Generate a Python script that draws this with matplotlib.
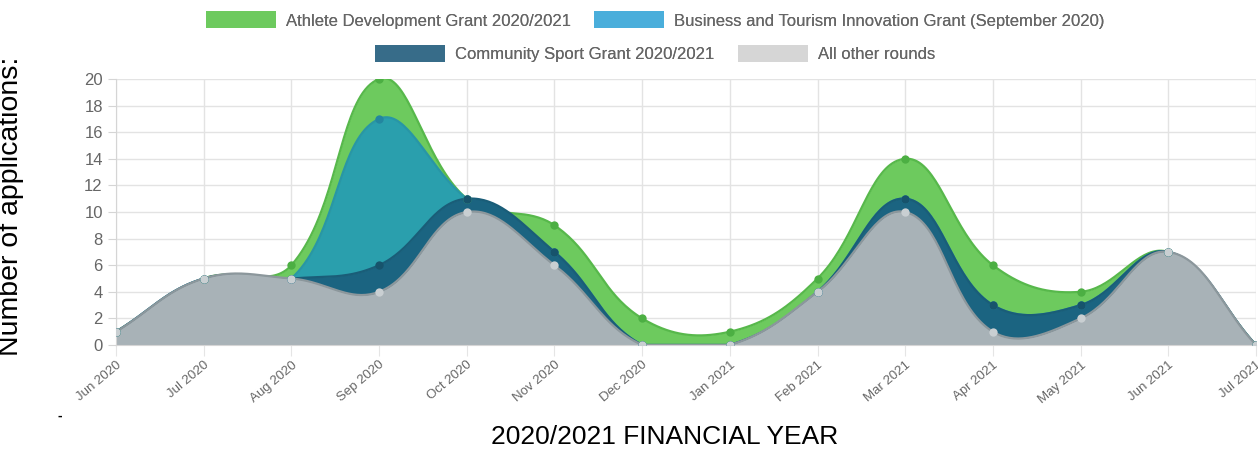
import numpy as np
import matplotlib
matplotlib.use('Agg')
import matplotlib.pyplot as plt
from matplotlib.patches import Patch

# 数据
months = ['Jun 2020', 'Jul 2020', 'Aug 2020', 'Sep 2020', 'Oct 2020', 'Nov 2020', 'Dec 2020',
          'Jan 2021', 'Feb 2021', 'Mar 2021', 'Apr 2021', 'May 2021', 'Jun 2021', 'Jul 2021']
other_rounds = [1, 5, 5, 4, 10, 6, 0, 0, 4, 10, 1, 2, 7, 0]
community = [0, 0, 0, 2, 1, 1, 0, 0, 0, 1, 2, 1, 0, 0]
business = [0, 0, 0, 11, 0, 0, 0, 0, 0, 0, 0, 0, 0, 0]
athlete = [0, 0, 1, 3, 0, 2, 2, 1, 1, 3, 3, 1, 0, 0]

fills = ['#a8b2b7', '#1b6481', '#2a9fad', '#6dca5e']
lines = ['#8c979c', '#1a5d78', '#2896a6', '#57b84b']
points = ['#c9cfd2', '#17536c', '#2386a0', '#4caf43']
legend_colors = {'Athlete Development Grant 2020/2021': '#6dca5e',
                 'Business and Tourism Innovation Grant (September 2020)': '#4aaedb',
                 'Community Sport Grant 2020/2021': '#376c89',
                 'All other rounds': '#d6d6d6'}

SX, SY = 87.7, 13.3  # 像素比例, 用于样条计算


def spline(xs, ys, t=0.4):
    """Chart.js 风格的贝塞尔曲线, 返回密集采样点."""
    px = np.array(xs, float) * SX
    py = np.array(ys, float) * SY
    n = len(px)
    cp_prev, cp_next = [], []
    for i in range(n):
        a = max(i - 1, 0)
        b = min(i + 1, n - 1)
        d01 = np.hypot(px[i] - px[a], py[i] - py[a])
        d12 = np.hypot(px[b] - px[i], py[b] - py[i])
        s = d01 + d12
        s01 = d01 / s if s else 0
        s12 = d12 / s if s else 0
        dx, dy = px[b] - px[a], py[b] - py[a]
        cp_prev.append((px[i] - t * s01 * dx, py[i] - t * s01 * dy))
        cp_next.append((px[i] + t * s12 * dx, py[i] + t * s12 * dy))
    outx, outy = [], []
    u = np.linspace(0, 1, 40)
    for i in range(n - 1):
        p0 = (px[i], py[i])
        p1 = cp_next[i]
        p2 = cp_prev[i + 1]
        p3 = (px[i + 1], py[i + 1])
        bx = (1 - u) ** 3 * p0[0] + 3 * (1 - u) ** 2 * u * p1[0] + 3 * (1 - u) * u ** 2 * p2[0] + u ** 3 * p3[0]
        by = (1 - u) ** 3 * p0[1] + 3 * (1 - u) ** 2 * u * p1[1] + 3 * (1 - u) * u ** 2 * p2[1] + u ** 3 * p3[1]
        outx.extend(bx)
        outy.extend(by)
    return np.array(outx) / SX, np.clip(np.array(outy) / SY, 0, None)


plt.rcParams['font.family'] = ['Liberation Sans', 'DejaVu Sans']
fig = plt.figure(figsize=(12.58, 4.5), dpi=100)
ax = fig.add_axes([116 / 1258, 1 - 345 / 450, 1140 / 1258, 266 / 450])

x = np.arange(len(months))
stacks = np.cumsum([other_rounds, community, business, athlete], axis=0)

# 从最上层开始画, 每层填充到0
for k in range(3, -1, -1):
    cx, cy = spline(x, stacks[k])
    ax.fill_between(cx, 0, cy, color=fills[k], zorder=2 + (3 - k) * 0.1, lw=0)
    ax.plot(cx, cy, color=lines[k], lw=1.6, zorder=2.05 + (3 - k) * 0.1)
    ax.scatter(x, stacks[k], s=36, color=points[k], zorder=3 + (3 - k) * 0.1, lw=0)

ax.set_xlim(0, len(months) - 1)
ax.set_ylim(0, 20)
ax.set_yticks(range(0, 21, 2))
ax.set_xticks(x)
ax.set_xticklabels(months, rotation=40, ha='right', rotation_mode='anchor', fontsize=9.5, color='#666666')
ax.tick_params(axis='y', labelsize=12, colors='#666666', length=6, color='#d5d5d5')
ax.tick_params(axis='x', length=8, color='#e5e5e5', pad=2)
ax.grid(color='#e3e3e3', lw=1, zorder=0)
for s in ['top', 'right']:
    ax.spines[s].set_visible(False)
ax.spines['left'].set_color('#d5d5d5')
ax.spines['bottom'].set_color('#d5d5d5')
ax.set_axisbelow(True)

ax.set_ylabel('Number of applications:', fontsize=20.5, color='black')
ax.yaxis.set_label_coords(-0.081, 0.52)
fig.text(665 / 1258, 1 - 437 / 450, '2020/2021 FINANCIAL YEAR', fontsize=19, ha='center', va='center')
fig.text(60 / 1258, 1 - 416 / 450, '-', fontsize=10, ha='center', va='center', fontweight='bold')

# 图例, 两行
row1 = ['Athlete Development Grant 2020/2021', 'Business and Tourism Innovation Grant (September 2020)']
row2 = ['Community Sport Grant 2020/2021', 'All other rounds']
for row, y in [(row1, 1.008), (row2, 0.933)]:
    handles = [Patch(facecolor=legend_colors[r], edgecolor='none') for r in row]
    leg = fig.legend(handles, row, loc='upper center', bbox_to_anchor=(655 / 1258, y), ncol=2,
                     frameon=False, fontsize=12, handlelength=4.2, handleheight=1.2,
                     columnspacing=1.4, handletextpad=0.6, labelcolor='#666666')
    fig.add_artist(leg)

fig.savefig('out.png', dpi=100)
